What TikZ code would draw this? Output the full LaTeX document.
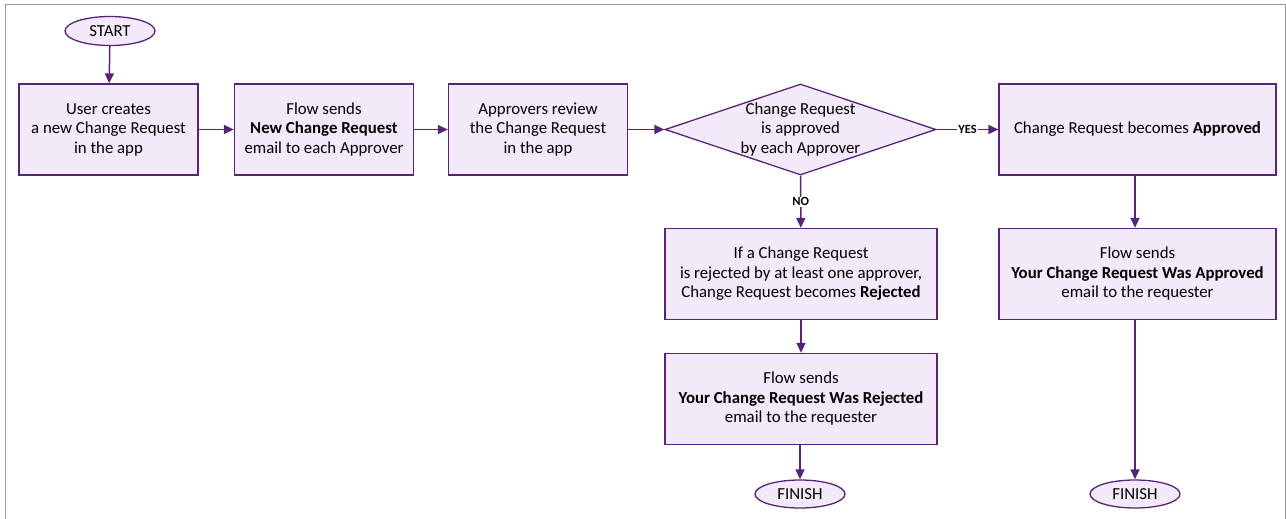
\documentclass[tikz,border=0pt]{standalone}
\usepackage{fontspec}
\setmainfont{Carlito}
\usetikzlibrary{arrows.meta,shapes.geometric}

\definecolor{cline}{RGB}{88,36,122}
\definecolor{cfill}{RGB}{242,234,248}

\tikzset{
	stepbox/.style={draw=cline,fill=cfill,line width=1.3pt,minimum width=179pt,minimum height=91pt,align=center,inner sep=0pt},
	terminal/.style={ellipse,draw=cline,fill=cfill,line width=1.3pt,minimum width=90pt,minimum height=29pt,inner sep=0pt},
	decision/.style={diamond,draw=cline,fill=cfill,line width=1.3pt,minimum width=271pt,minimum height=91pt,inner sep=0pt},
	flow/.style={draw=cline,line width=1.5pt,-{Triangle[length=10pt,width=9pt]}},
	answer/.style={fill=white,inner sep=1pt,font=\fontsize{12.5}{14}\selectfont\bfseries}
}

\begin{document}
\begin{tikzpicture}[x=1pt,y=-1pt,font=\fontsize{16.8}{19.5}\selectfont]
	\useasboundingbox (0,0) rectangle (1286,519);
	\draw[gray!80,line width=1pt] (5,519) -- (5,5) -- (1285,5) -- (1285,519);

	\node[terminal] (start) at (110,31) {START};
	\node[stepbox] (create) at (108.5,129.5) {User creates\\a new Change Request\\in the app};
	\node[stepbox] (sendnew) at (324,129.5) {Flow sends\\\textbf{New Change Request}\\email to each Approver};
	\node[stepbox] (review) at (538,129.5) {Approvers review\\the Change Request\\in the app};
	\node[decision] (check) at (800.5,129.5) {};
	\node[align=center,inner sep=0pt] (checktext) at (check) {Change Request\\is approved\\by each Approver};
	\node[stepbox,minimum width=277pt] (approved) at (1137.5,129.5) {Change Request becomes \textbf{Approved}};
	\node[stepbox,minimum width=272pt] (rejected) at (801,274) {If a Change Request\\is rejected by at least one approver,\\Change Request becomes \textbf{Rejected}};
	\node[stepbox,minimum width=272pt] (sendrej) at (801,399) {Flow sends\\\textbf{Your Change Request Was Rejected}\\email to the requester};
	\node[stepbox,minimum width=277pt] (sendapp) at (1137.5,274) {Flow sends\\\textbf{Your Change Request Was Approved}\\email to the requester};
	\node[terminal,minimum height=28pt] (finishrej) at (800,494) {FINISH};
	\node[terminal,minimum height=28pt] (finishapp) at (1135,494) {FINISH};

	\draw[flow] (start) -- (create);
	\draw[flow] (create) -- (sendnew);
	\draw[flow] (sendnew) -- (review);
	\draw[flow] (review) -- (check);
	\draw[flow] (check) -- node[answer] {YES} (approved);
	\draw[flow] (check) -- node[answer] {NO} (rejected);
	\draw[flow] (rejected) -- (sendrej);
	\draw[flow] (sendrej.south -| finishrej) -- (finishrej);
	\draw[flow] (approved.south -| finishapp) -- (sendapp.north -| finishapp);
	\draw[flow] (sendapp.south -| finishapp) -- (finishapp);
\end{tikzpicture}
\end{document}
